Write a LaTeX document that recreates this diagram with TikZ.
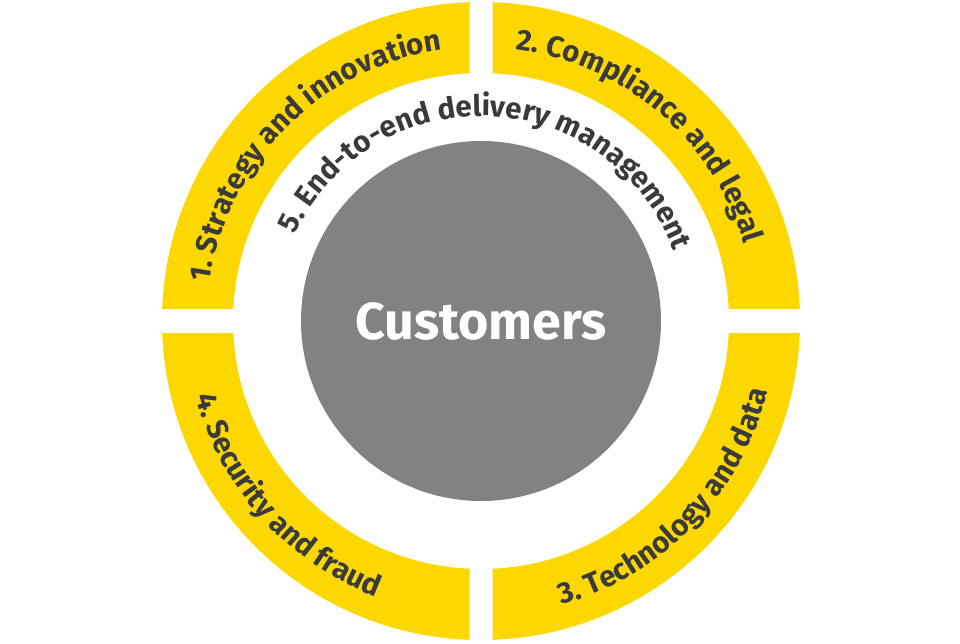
\documentclass[tikz,border=0pt]{standalone}
\usepackage{fontspec}
\setmainfont{Fira Sans}
\usepackage{xcolor}
\usetikzlibrary{decorations.text}
\definecolor{ringyellow}{RGB}{253,216,0}
\definecolor{coregrey}{RGB}{130,130,130}
\definecolor{labelgrey}{RGB}{58,58,58}

\begin{document}
\begin{tikzpicture}[x=1pt, y=1pt,
  ringtext/.style={decorate, decoration={text along path, text align=center,
    text color=labelgrey, text={|\fontsize{29.5}{32}\bfseries\selectfont|#1}}}]
  \useasboundingbox (-481,-323) rectangle (479,321);

  % Ring
  \foreach \sx/\sy in {-1/1, 1/1, 1/-1, -1/-1} {
    \begin{scope}
      \clip (11.5*\sx, 12.5*\sy) rectangle (330*\sx, 330*\sy);
      \fill[ringyellow, even odd rule] (0,0) circle[radius=319] (0,0) circle[radius=248];
    \end{scope}
  }

  % Core
  \node[circle, fill=coregrey, minimum size=360, inner sep=0pt, text=white,
    font=\fontsize{52}{58}\bfseries\selectfont] (customers) at (0,0) {Customers};

  % Labels
  \path[ringtext={1. Strategy and innovation}] (180:274) arc[start angle=180, end angle=90, radius=274];
  \path[ringtext={2. Compliance and legal}] (94:274) arc[start angle=94, end angle=5, radius=274];
  \path[ringtext={3. Technology and data}] (-89:295) arc[start angle=-89, end angle=1, radius=295];
  \path[ringtext={4. Security and fraud}] (177:295) arc[start angle=177, end angle=267, radius=295];
  \path[ringtext={5. End-to-end delivery management}] (180:205) arc[start angle=180, end angle=-5, radius=205];
\end{tikzpicture}
\end{document}
